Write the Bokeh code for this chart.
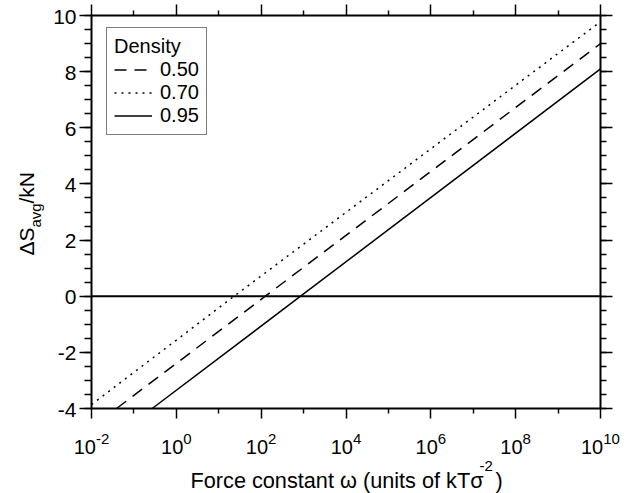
import math
from bokeh.plotting import figure
from bokeh.models import (Range1d, LogAxis, LinearAxis, FixedTicker, Legend, LegendItem,
                          LabelSet, ColumnDataSource, CustomJSTickFormatter)
from bokeh.core.properties import value
from bokeh.embed import file_html
from bokeh.resources import INLINE

# ---- data ----
omega_050 = [0.039, 125.0, 1e10]
ds_050 = [-4.0, 0.0, 9.0]
omega_070 = [1e-2, 23.0, 1e10]
ds_070 = [-3.86, 0.0, 9.78]
omega_095 = [0.27, 850.0, 1e10]
ds_095 = [-4.0, 0.0, 8.1]

density_labels = ["0.50", "0.70", "0.95"]

x_major = [1e-2, 1e0, 1e2, 1e4, 1e6, 1e8, 1e10]
x_minor = [1e-1, 1e1, 1e3, 1e5, 1e7, 1e9]
x_exponents = ["-2", "0", "2", "4", "6", "8", "10"]
y_major = [-4, -2, 0, 2, 4, 6, 8, 10]
y_minor = [-4 + 0.5 * i for i in range(29)]
y_tick_text = [str(v) for v in y_major]

FONT = "Liberation Sans"

# ---- layout: canvas size and where the plotting box sits in it ----
W, H = 635, 493
BOX_L, BOX_R, BOX_T, BOX_B = 91, 600, 15, 408
lx0, lx1 = math.log10(x_major[0]), math.log10(x_major[-1])
px_dec = (BOX_R - BOX_L) / (lx1 - lx0)
px_unit = (BOX_B - BOX_T) / (y_major[-1] - y_major[0])
x_lo = 10 ** (lx0 - BOX_L / px_dec)
x_hi = 10 ** (lx1 + (W - BOX_R) / px_dec)
y_lo = y_major[0] - (H - BOX_B) / px_unit
y_hi = y_major[-1] + BOX_T / px_unit

p = figure(width=W, height=H, x_axis_type="log",
           x_range=Range1d(x_lo, x_hi), y_range=Range1d(y_lo, y_hi),
           x_axis_location=None, y_axis_location=None,
           output_backend="svg", toolbar_location=None, min_border=0)
p.grid.visible = False
p.outline_line_color = None
p.background_fill_color = "white"
p.border_fill_color = "white"

blank = CustomJSTickFormatter(code="return ''")


def box_axis(cls, side, loc, bounds, major, minor, tin, min_in):
    ax = cls(fixed_location=loc, bounds=bounds,
             ticker=FixedTicker(ticks=major, minor_ticks=minor), formatter=blank)
    ax.axis_line_color = "black"
    ax.axis_line_width = 2
    ax.major_tick_line_color = "black"
    ax.minor_tick_line_color = "black"
    ax.major_tick_line_width = 1.5
    ax.minor_tick_line_width = 1.5
    ax.major_tick_in = tin
    ax.major_tick_out = 0
    ax.minor_tick_in = min_in
    ax.minor_tick_out = 0
    ax.major_label_text_font_size = "0px"
    ax.major_label_standoff = 0
    p.add_layout(ax, side)
    return ax


xb = (x_major[0], x_major[-1])
yb = (y_major[0], y_major[-1])
# ticks pointing outwards from the box on every side
box_axis(LogAxis, "above", y_major[0], xb, x_major, x_minor, 10, 5)      # bottom edge
box_axis(LogAxis, "below", y_major[-1], xb, x_major, x_minor, 11, 5)     # top edge
box_axis(LinearAxis, "right", x_major[0], yb, y_major, y_minor, 12, 7)   # left edge
box_axis(LinearAxis, "left", x_major[-1], yb, y_major, y_minor, 12, 6)   # right edge

# zero line
p.line([x_major[0], x_major[-1]], [0, 0], line_color="black", line_width=2)

r50 = p.line(omega_050, ds_050, line_color="black", line_width=1.5, line_dash="12 8")
r70 = p.line(omega_070, ds_070, line_color="black", line_width=1.5, line_dash="2 5")
r95 = p.line(omega_095, ds_095, line_color="black", line_width=1.5)

legend = Legend(items=[LegendItem(label=density_labels[0], renderers=[r50]),
                       LegendItem(label=density_labels[1], renderers=[r70]),
                       LegendItem(label=density_labels[2], renderers=[r95])],
                title="Density", location=(106, H - 135))
legend.title_text_font = FONT
legend.title_text_font_size = "20px"
legend.title_text_font_style = "normal"
legend.title_text_color = "black"
legend.title_standoff = 0
legend.label_text_font = FONT
legend.label_text_font_size = "20px"
legend.label_text_color = "black"
legend.border_line_color = "black"
legend.border_line_width = 1.5
legend.background_fill_color = "white"
legend.background_fill_alpha = 1
legend.padding = 7
legend.spacing = 0
legend.label_height = 23
legend.glyph_height = 23
legend.glyph_width = 38
legend.label_standoff = 8
legend.margin = 0
p.add_layout(legend)

# y tick labels
ysrc = ColumnDataSource(dict(x=[x_major[0]] * len(y_major), y=y_major, t=y_tick_text))
p.add_layout(LabelSet(x="x", y="y", text="t", source=ysrc, x_offset=-15, y_offset=-1,
                      text_align="right", text_baseline="middle", text_font=value(FONT),
                      text_font_size="21px", text_color="black"))

# x tick labels: "10" with a raised exponent, the pair centred on the tick
base_w = 22.2
exp_w = [sum(5.0 if c == "-" else 8.34 for c in e) for e in x_exponents]
anchor = [(base_w - w) / 2 for w in exp_w]
tick_src = ColumnDataSource(dict(x=x_major, base=["10"] * len(x_major), exp=x_exponents, off=anchor))
p.add_layout(LabelSet(x="x", y=H - 453, text="base", x_offset="off", source=tick_src,
                      x_units="data", y_units="screen", text_align="right",
                      text_baseline="alphabetic", text_font=value(FONT),
                      text_font_size="20px", text_color="black"))
p.add_layout(LabelSet(x="x", y=H - 443, text="exp", x_offset="off", source=tick_src,
                      x_units="data", y_units="screen", text_align="left",
                      text_baseline="alphabetic", text_font=value(FONT),
                      text_font_size="15px", text_color="black"))

# axis titles, pieces placed at canvas pixel positions (x from left, y from top)
title_parts = dict(
    t=["Force constant \u03c9 (units of kT\u03c3", "-2", ")", "\u0394S", "avg", "/kN"],
    cx=[190, 479, 495, 33, 40, 33],
    cy=[487, 470, 487, 255, 227, 203],
    size=["21.7px", "15px", "21.7px", "21px", "15px", "21px"],
    ang=[0.0, 0.0, 0.0, math.pi / 2, math.pi / 2, math.pi / 2],
)
title_parts["sy"] = [H - v for v in title_parts["cy"]]
p.add_layout(LabelSet(x="cx", y="sy", text="t", angle="ang", text_font_size="size",
                      source=ColumnDataSource(title_parts),
                      x_units="screen", y_units="screen", text_align="left",
                      text_baseline="alphabetic", text_font=value(FONT), text_color="black"))

open("out.html", "w").write(file_html(p, INLINE))
